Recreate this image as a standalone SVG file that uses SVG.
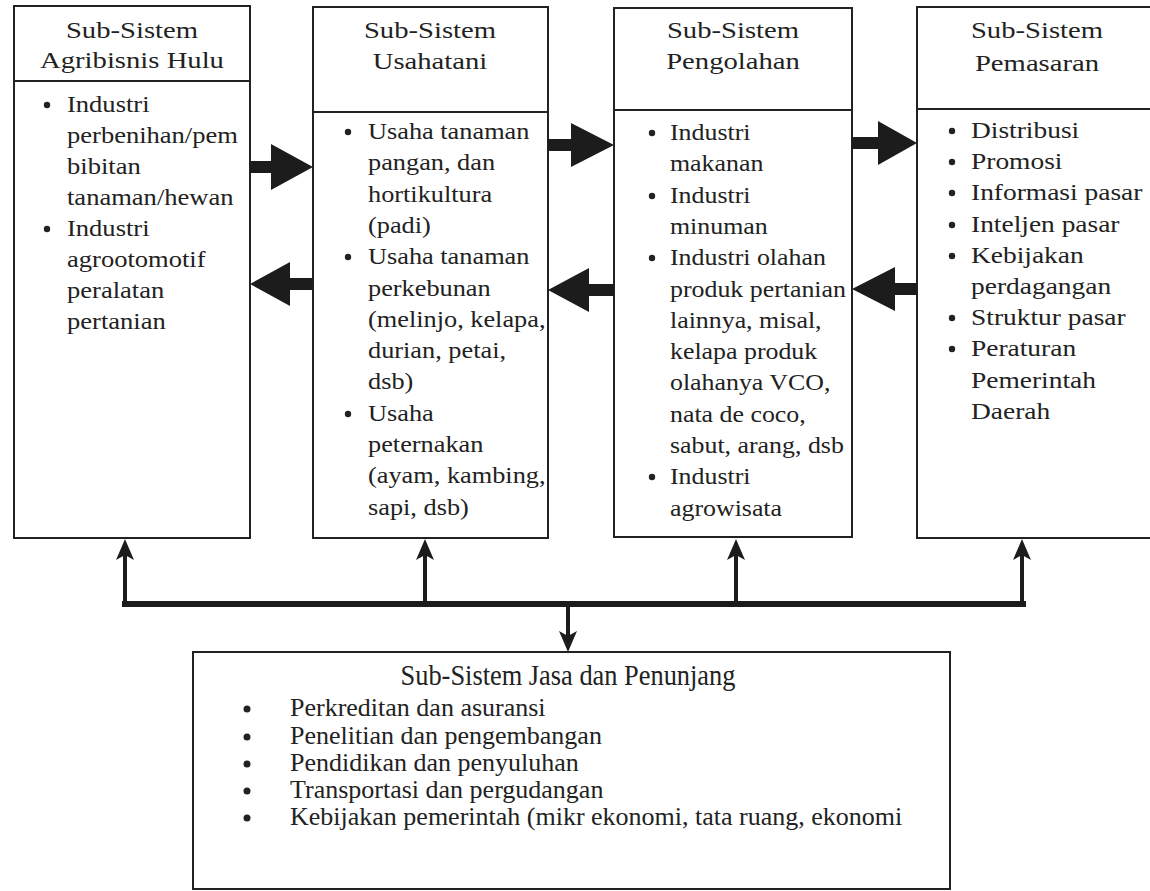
<svg xmlns="http://www.w3.org/2000/svg" width="1150" height="891" viewBox="0 0 1150 891">
<defs>
<style>
.box{fill:#fff;stroke:#222;stroke-width:2}
.div{stroke:#222;stroke-width:2}
.hd{font-family:"Liberation Serif",serif;font-size:23.5px;fill:#222;text-anchor:middle}
.bd{font-family:"Liberation Serif",serif;font-size:22.5px;fill:#222}
.bt{font-family:"Liberation Serif",serif;font-size:26px;fill:#222}
.tt{font-family:"Liberation Serif",serif;font-size:29px;fill:#222;text-anchor:middle}
.dot{fill:#222}
.blk{fill:#1c1c1c}
.ln{stroke:#1c1c1c;fill:none}
</style>
<marker id="head" markerUnits="userSpaceOnUse" markerWidth="22" markerHeight="18" refX="8" refY="9" orient="auto">
<path d="M0,0 L21,9 L0,18 L5,9 Z" fill="#1c1c1c"/>
</marker>
</defs>
<rect width="1150" height="891" fill="#fff"/>

<g id="hulu">
<rect class="box" x="14" y="6" width="236" height="532"/>
<line class="div" x1="14" y1="81" x2="250" y2="81"/>
<g class="hd" transform="translate(132 0) scale(1.22 1)"><text x="0" y="38">Sub-Sistem</text><text x="0" y="68">Agribisnis Hulu</text></g>
<circle class="dot" cx="47" cy="105" r="3.2"/>
<circle class="dot" cx="47" cy="229" r="3.2"/>
<g class="bd" transform="translate(67 0) scale(1.18 1)">
<text x="0" y="112">Industri</text>
<text x="0" y="143">perbenihan/pem</text>
<text x="0" y="174">bibitan</text>
<text x="0" y="205">tanaman/hewan</text>
<text x="0" y="236">Industri</text>
<text x="0" y="267">agrootomotif</text>
<text x="0" y="298">peralatan</text>
<text x="0" y="329">pertanian</text>
</g>
</g>

<g id="usahatani">
<rect class="box" x="313" y="7" width="235" height="531"/>
<line class="div" x1="313" y1="112" x2="548" y2="112"/>
<g class="hd" transform="translate(430 0) scale(1.22 1)"><text x="0" y="38">Sub-Sistem</text><text x="0" y="69">Usahatani</text></g>
<circle class="dot" cx="348" cy="132" r="3.2"/>
<circle class="dot" cx="348" cy="257" r="3.2"/>
<circle class="dot" cx="348" cy="414" r="3.2"/>
<g class="bd" transform="translate(368 0) scale(1.17 1)">
<text x="0" y="139">Usaha tanaman</text>
<text x="0" y="170">pangan, dan</text>
<text x="0" y="202">hortikultura</text>
<text x="0" y="233">(padi)</text>
<text x="0" y="264">Usaha tanaman</text>
<text x="0" y="296">perkebunan</text>
<text x="0" y="327">(melinjo, kelapa,</text>
<text x="0" y="358">durian, petai,</text>
<text x="0" y="389">dsb)</text>
<text x="0" y="421">Usaha</text>
<text x="0" y="452">peternakan</text>
<text x="0" y="483">(ayam, kambing,</text>
<text x="0" y="515">sapi, dsb)</text>
</g>
</g>

<g id="pengolahan">
<rect class="box" x="614" y="8" width="238" height="529"/>
<line class="div" x1="614" y1="110" x2="852" y2="110"/>
<g class="hd" transform="translate(733 0) scale(1.22 1)"><text x="0" y="38">Sub-Sistem</text><text x="0" y="69">Pengolahan</text></g>
<circle class="dot" cx="652" cy="133" r="3.2"/>
<circle class="dot" cx="652" cy="196" r="3.2"/>
<circle class="dot" cx="652" cy="258" r="3.2"/>
<circle class="dot" cx="652" cy="477" r="3.2"/>
<g class="bd" transform="translate(670 0) scale(1.15 1)">
<text x="0" y="140">Industri</text>
<text x="0" y="171">makanan</text>
<text x="0" y="203">Industri</text>
<text x="0" y="234">minuman</text>
<text x="0" y="265">Industri olahan</text>
<text x="0" y="297">produk pertanian</text>
<text x="0" y="328">lainnya, misal,</text>
<text x="0" y="359">kelapa produk</text>
<text x="0" y="390">olahanya VCO,</text>
<text x="0" y="422">nata de coco,</text>
<text x="0" y="453">sabut, arang, dsb</text>
<text x="0" y="484">Industri</text>
<text x="0" y="516">agrowisata</text>
</g>
</g>

<g id="pemasaran">
<rect class="box" x="917" y="7" width="250" height="531"/>
<line class="div" x1="917" y1="109" x2="1150" y2="109"/>
<g class="hd" transform="translate(1037 0) scale(1.22 1)"><text x="0" y="38">Sub-Sistem</text><text x="0" y="71">Pemasaran</text></g>
<circle class="dot" cx="952" cy="131" r="3.2"/>
<circle class="dot" cx="952" cy="162" r="3.2"/>
<circle class="dot" cx="952" cy="193" r="3.2"/>
<circle class="dot" cx="952" cy="225" r="3.2"/>
<circle class="dot" cx="952" cy="256" r="3.2"/>
<circle class="dot" cx="952" cy="318" r="3.2"/>
<circle class="dot" cx="952" cy="349" r="3.2"/>
<g class="bd" transform="translate(971 0) scale(1.22 1)">
<text x="0" y="138">Distribusi</text>
<text x="0" y="169">Promosi</text>
<text x="0" y="200">Informasi pasar</text>
<text x="0" y="232">Inteljen pasar</text>
<text x="0" y="263">Kebijakan</text>
<text x="0" y="294">perdagangan</text>
<text x="0" y="325">Struktur pasar</text>
<text x="0" y="356">Peraturan</text>
<text x="0" y="388">Pemerintah</text>
<text x="0" y="419">Daerah</text>
</g>
</g>

<g id="jasa">
<rect class="box" x="193" y="652" width="757" height="237"/>
<g class="tt" transform="translate(568 0) scale(0.91 1)"><text x="0" y="685">Sub-Sistem Jasa dan Penunjang</text></g>
<circle class="dot" cx="247" cy="709" r="3.5"/>
<circle class="dot" cx="247" cy="737" r="3.5"/>
<circle class="dot" cx="247" cy="764" r="3.5"/>
<circle class="dot" cx="247" cy="791" r="3.5"/>
<circle class="dot" cx="247" cy="818" r="3.5"/>
<text class="bt" x="290" y="716">Perkreditan dan asuransi</text>
<text class="bt" x="290" y="744">Penelitian dan pengembangan</text>
<text class="bt" x="290" y="771">Pendidikan dan penyuluhan</text>
<text class="bt" x="290" y="798">Transportasi dan pergudangan</text>
<text class="bt" x="290" y="825">Kebijakan pemerintah (mikr ekonomi, tata ruang, ekonomi</text>
</g>

<g id="connectors">
<polygon class="blk" points="250,161 271,161 271,144 313,167 271,190 271,173 250,173"/>
<polygon class="blk" points="313,278 290,278 290,262 250,284 290,306 290,290 313,290"/>
<polygon class="blk" points="548,139 571,139 571,123 614,145 571,167 571,151 548,151"/>
<polygon class="blk" points="614,284 589,284 589,268 548,290 589,312 589,296 614,296"/>
<polygon class="blk" points="852,137 878,137 878,121 917,143 878,165 878,149 852,149"/>
<polygon class="blk" points="917,283 895,283 895,267 852,289 895,311 895,295 917,295"/>
<line class="ln" x1="122" y1="604" x2="1026" y2="604" stroke-width="6"/>
<line class="ln" x1="125" y1="604" x2="125" y2="552" stroke-width="4" marker-end="url(#head)"/>
<line class="ln" x1="425" y1="604" x2="425" y2="552" stroke-width="4" marker-end="url(#head)"/>
<line class="ln" x1="736" y1="604" x2="736" y2="552" stroke-width="4" marker-end="url(#head)"/>
<line class="ln" x1="1022" y1="604" x2="1022" y2="552" stroke-width="4" marker-end="url(#head)"/>
<line class="ln" x1="568" y1="604" x2="568" y2="639" stroke-width="4" marker-end="url(#head)"/>
</g>
</svg>
